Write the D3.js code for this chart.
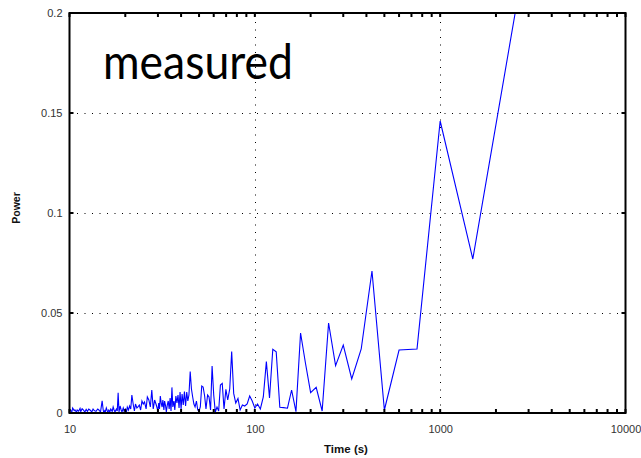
<!DOCTYPE html>
<html><head><meta charset="utf-8">
<script src="https://cdn.jsdelivr.net/npm/d3@7"></script>
<style>html,body{margin:0;padding:0;background:#fff;}svg{display:block;}</style>
</head><body>
<svg id="chart" width="641" height="458"></svg>
<script>
// ---- data ----
const periods = [3000,1500,1000,750,600,500,428.6,375,333.3,300,272.7,250,230.8,214.3,200,187.5,176.5,166.7,157.9,150,
  142.9,136.4,130.4,125,120,115.4,111.1,107.1,103.4,100,96.8,93.8,90.9,88.2,85.7,83.3,81.1,78.9,76.9,75,
  73.2,71.4,69.8,68.2,66.7,65.2,63.8,62.5,61.2,60,58.8,57.7,56.6,55.6,54.5,53.6,52.6,51.7,50.8,50,
  49.2,48.4,47.6,46.9,46.2,45.5,44.8,44.1,43.5,42.9,42.3,41.7,41.1,40.5,40,39.5,39,38.5,38,37.5,
  37,36.6,36.1,35.7,35.3,34.9,34.5,34.1,33.7,33.3,33,32.6,32.3,31.9,31.6,31.3,30.9,30.6,30.3,30,
  29.4,28.8,28.3,27.8,27.3,26.8,26.3,25.9,25.4,25,24.6,24.2,23.8,23.4,23.1,22.7,22.4,22.1,21.7,21.4,
  21.1,20.8,20.5,20.3,20,19.7,19.5,19.2,19,18.75,18.5,18.3,18.1,17.9,17.6,17.4,17.2,17,16.9,16.7,
  16.5,16.3,16.1,16,15.8,15.6,15.5,15.3,15.2,15,14.7,14.4,14.2,13.9,13.6,13.4,13.2,12.9,12.7,12.5,
  12.3,12.1,11.9,11.7,11.5,11.4,11.2,11,10.9,10.7,10.6,10.4,10.3,10.1,10];
const power = [0.239,0.077,0.146,0.032,0.0315,0.0015,0.071,0.032,0.017,0.034,0.0237,0.045,0.001,0.0128,0.0102,0.025,0.040,0.0007,0.0115,0.0024,
  0.0027,0.0029,0.0306,0.0319,0.0075,0.0257,0.008,0.002,0.0045,0.0025,0.006,0.0085,0.0045,0.0035,0.004,0.0015,0.0073,0.005,0.0098,0.0307,
  0.012,0.0065,0.0118,0.002,0.0148,0.014,0.001,0.003,0.0005,0.009,0.0235,0.0015,0.008,0.009,0.002,0.0085,0.013,0.0135,0.003,0.001,
  0.0015,0.006,0.003,0.0045,0.008,0.012,0.0207,0.009,0.006,0.0105,0.0035,0.0107,0.004,0.0095,0.002,0.0105,0.0025,0.009,0.005,0.0085,
  0.0015,0.006,0.003,0.0128,0.001,0.0075,0.002,0.006,0.004,0.0005,0.0035,0.006,0.0015,0.0065,0.003,0.0045,0.0085,0.002,0.005,0.001,
  0.004,0.0065,0.002,0.0115,0.003,0.0065,0.008,0.002,0.0055,0.0045,0.006,0.0015,0.004,0.003,0.0025,0.0045,0.001,0.004,0.009,0.002,
  0.0035,0.0015,0.003,0.0005,0.002,0.001,0.0025,0.0005,0.0015,0.0035,0.0005,0.0101,0.001,0.002,0.0005,0.0015,0.003,0.0008,0.0012,0.002,
  0.0005,0.0015,0.0004,0.001,0.0025,0.0006,0.0012,0.0003,0.0015,0.0061,0.0005,0.0015,0.002,0.0008,0.0012,0.002,0.0006,0.0015,0.002,0.0008,
  0.0018,0.0005,0.0014,0.0021,0.0007,0.0023,0.0009,0.0015,0.0004,0.0016,0.0012,0.0025,0.0006,0.0015,0.0009];
const xTicks = [10,100,1000,10000];
const xTickLabels = ["10","100","1000","10000"];
const yTicks = [0,0.05,0.1,0.15,0.2];
const yTickLabels = ["0","0.05","0.1","0.15","0.2"];
const xGrid = [100,1000];
const yGrid = [0.05,0.1,0.15];
const title = "measured";
const xTitle = "Time (s)";
const yTitle = "Power";

// ---- layout ----
const L = 69.5, R = 625.5, T = 13, B = 413;
const svg = d3.select("#chart");
const x = d3.scaleLog().domain([10,10000]).range([L,R]);
const y = d3.scaleLinear().domain([0,0.2]).range([B,T]);

svg.append("defs").append("clipPath").attr("id","clip")
  .append("rect").attr("x",L).attr("y",T).attr("width",R-L).attr("height",B-T);

// grid
const grid = svg.append("g").attr("stroke","#000").attr("stroke-width",1).attr("stroke-dasharray","1,6.5");
grid.selectAll(".gx").data(xGrid).join("line")
  .attr("x1",d=>Math.round(x(d))+0.5).attr("x2",d=>Math.round(x(d))+0.5).attr("y1",B).attr("y2",T);
grid.selectAll(".gy").data(yGrid).join("line")
  .attr("y1",d=>Math.round(y(d))+0.5).attr("y2",d=>Math.round(y(d))+0.5).attr("x1",L).attr("x2",R);

// line
const pts = periods.map((p,i)=>[p,power[i]]).sort((a,b)=>a[0]-b[0]);
svg.append("path").datum(pts).attr("clip-path","url(#clip)")
  .attr("fill","none").attr("stroke","#0000ff").attr("stroke-width",1.1)
  .attr("d", d3.line().x(d=>x(d[0])).y(d=>y(d[1])));

// axes (ticks inward)
const minor = x.ticks().filter(v=>!xTicks.includes(v));
const fmtX = (d)=> xTickLabels[xTicks.indexOf(d)];
const axB = d3.axisBottom(x).tickValues(xTicks).tickFormat(fmtX).tickSize(0).tickPadding(12);
const gB = svg.append("g").attr("transform",`translate(0,${B})`).call(axB);
gB.select(".domain").remove();
const axL = d3.axisLeft(y).tickValues(yTicks).tickFormat(d=>yTickLabels[yTicks.indexOf(d)]).tickSize(0).tickPadding(7);
const gL = svg.append("g").attr("transform",`translate(${L},0)`).call(axL);
gL.select(".domain").remove();
svg.selectAll(".tick text").attr("font-family","'Liberation Sans', Arial, sans-serif").attr("font-size",11).attr("fill","#333");

// tick marks
const tk = svg.append("g").attr("stroke","#000").attr("stroke-width",2);
tk.selectAll(".mb").data(minor.concat(xTicks)).join("line")
  .attr("x1",d=>x(d)).attr("x2",d=>x(d)).attr("y1",B).attr("y2",B-4);
tk.selectAll(".mt").data(minor.concat(xTicks)).join("line")
  .attr("x1",d=>x(d)).attr("x2",d=>x(d)).attr("y1",T).attr("y2",T+4);
tk.selectAll(".yl").data(yTicks).join("line")
  .attr("x1",L).attr("x2",L+4).attr("y1",d=>y(d)).attr("y2",d=>y(d));
tk.selectAll(".yr").data(yTicks).join("line")
  .attr("x1",R).attr("x2",R-4).attr("y1",d=>y(d)).attr("y2",d=>y(d));

// frame
svg.append("rect").attr("x",L).attr("y",T).attr("width",R-L).attr("height",B-T)
  .attr("fill","none").attr("stroke","#000").attr("stroke-width",2);

// titles
svg.append("text").attr("x",346).attr("y",453).attr("text-anchor","middle")
  .attr("font-family","'Liberation Sans', Arial, sans-serif").attr("font-weight","bold").attr("font-size",11.5)
  .attr("fill","#111").text(xTitle);
svg.append("text").attr("transform","translate(20,208) rotate(-90)").attr("text-anchor","middle")
  .attr("font-family","'Liberation Sans', Arial, sans-serif").attr("font-weight","bold").attr("font-size",10.5)
  .attr("fill","#111").text(yTitle);
svg.append("text").attr("x",103).attr("y",79)
  .attr("font-family","Lato, 'Open Sans', sans-serif").attr("font-size",48).attr("fill","#000")
  .attr("textLength",190).attr("lengthAdjust","spacingAndGlyphs").text(title);
</script>
</body></html>
